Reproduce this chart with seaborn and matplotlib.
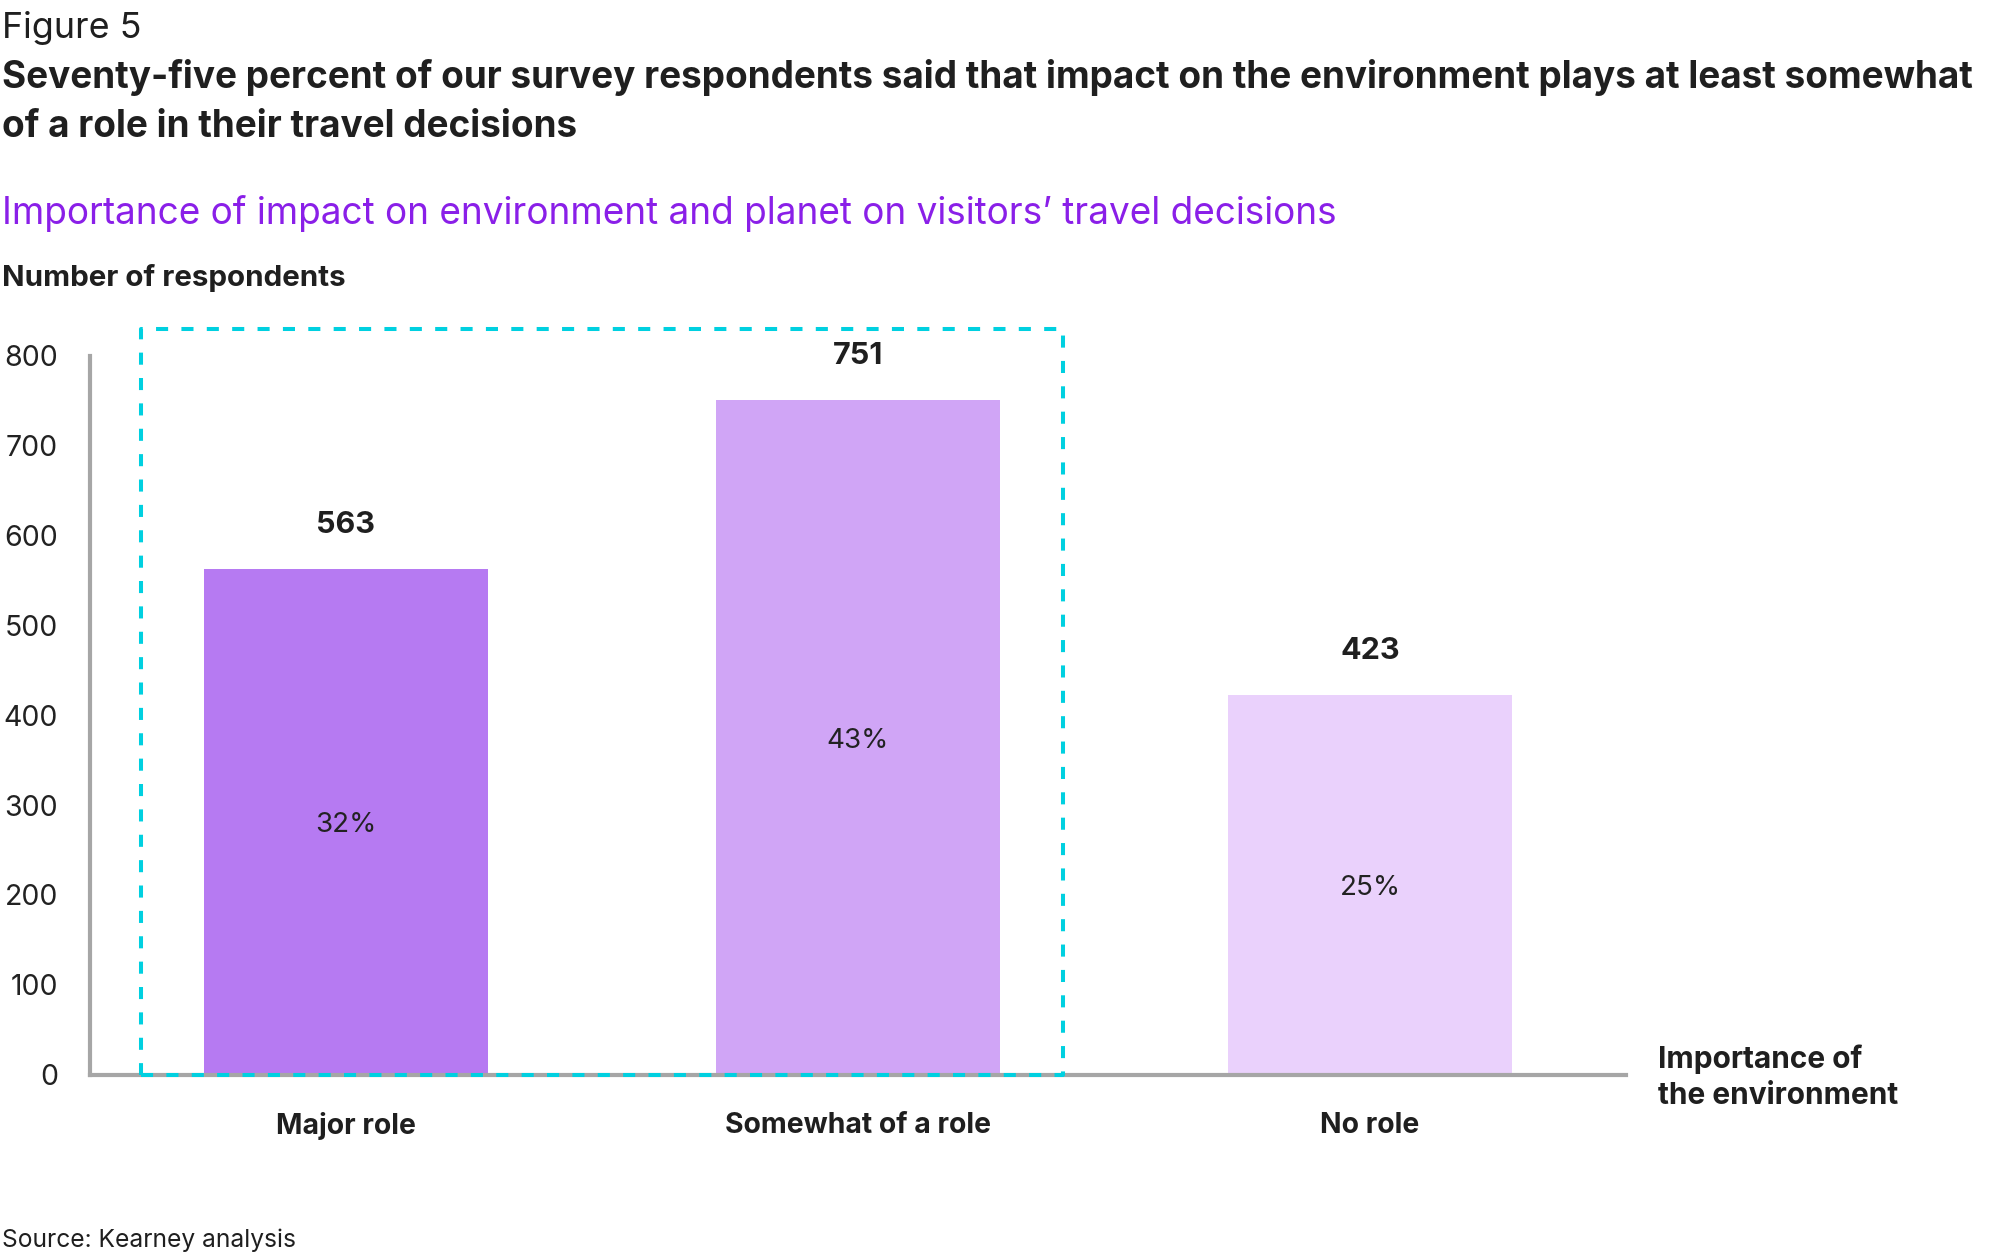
import matplotlib
matplotlib.use("Agg")
import matplotlib.pyplot as plt
import seaborn as sns
import pandas as pd

categories = ["Major role", "Somewhat of a role", "No role"]
respondents = [563, 751, 423]
shares = ["32%", "43%", "25%"]
bar_colors = ["#B67AF2", "#D0A5F6", "#EAD1FC"]
yticks = [0, 100, 200, 300, 400, 500, 600, 700, 800]

sns.set_theme(style="white")
plt.rcParams["font.family"] = ["Inter", "DejaVu Sans"]

df = pd.DataFrame({"cat": categories, "n": respondents})

fig = plt.figure(figsize=(20, 12.57), dpi=100)
ax = fig.add_axes([0.045, 0.145, 0.768, 0.572])

sns.barplot(data=df, x="cat", y="n", hue="cat", palette=bar_colors,
            width=0.555, legend=False, ax=ax, saturation=1, edgecolor="none")

ax.set_xlim(-0.5, 2.5)
ax.set_ylim(0, 800)
ax.set_yticks(yticks)
ax.set_yticklabels([str(t) for t in yticks], fontsize=20.5, color="#222222")
ax.tick_params(axis="y", length=0, pad=23)
ax.tick_params(axis="x", length=0, pad=27)
for lbl in ax.get_xticklabels():
    lbl.set_fontsize(20.4)
    lbl.set_fontweight("bold")
    lbl.set_color("#1f1f1f")
ax.set_xlabel("")
ax.set_ylabel("")
for s in ["top", "right"]:
    ax.spines[s].set_visible(False)
for s in ["left", "bottom"]:
    ax.spines[s].set_color("#A6A6A6")
    ax.spines[s].set_linewidth(3)

for i, (v, p) in enumerate(zip(respondents, shares)):
    ax.annotate(str(v), (i, v), xytext=(0, 31.5), textcoords="offset points",
                ha="center", va="center", fontsize=22, fontweight="bold", color="#1f1f1f")
    ax.annotate(p, (i, v / 2), xytext=(0, -2.5), textcoords="offset points",
                ha="center", va="center", fontsize=20, color="#222222")

# dashed highlight box
bx = [-0.4, 1.4, 1.4, -0.4, -0.4]
by = [0, 0, 830, 830, 0]
ax.plot(bx, by, color="#00D0E0", lw=2.9, linestyle=(0, (3, 3.3)), clip_on=False, zorder=5)

fig.text(0.001, 0.978, "Figure 5", fontsize=25.8, color="#1f1f1f", va="center", ha="left")
fig.text(0.001, 0.938, "Seventy-five percent of our survey respondents said that impact on the environment plays at least somewhat",
         fontsize=26.6, fontweight="bold", color="#1f1f1f", va="center", ha="left")
fig.text(0.001, 0.899, "of a role in their travel decisions",
         fontsize=26.6, fontweight="bold", color="#1f1f1f", va="center", ha="left")
fig.text(0.001, 0.830, "Importance of impact on environment and planet on visitors\u2019 travel decisions",
         fontsize=26.6, color="#8A1FE8", va="center", ha="left")
fig.text(0.001, 0.779, "Number of respondents", fontsize=21.3, fontweight="bold", color="#1f1f1f",
         va="center", ha="left")
fig.text(0.829, 0.143, "Importance of\nthe environment", fontsize=21.5, fontweight="bold", color="#1f1f1f",
         va="center", ha="left", linespacing=1.4)
fig.text(0.001, 0.013, "Source: Kearney analysis", fontsize=17.7, color="#1f1f1f", va="center", ha="left")

fig.savefig("out.png", dpi=100)
